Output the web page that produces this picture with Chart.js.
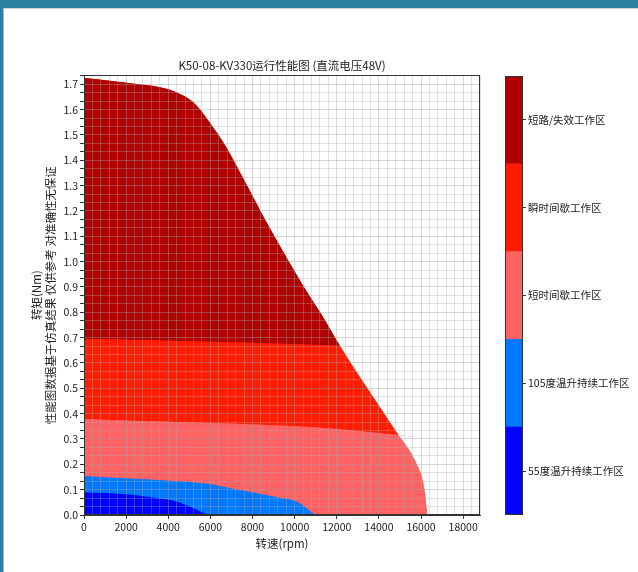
<!DOCTYPE html>
<html>
<head>
<meta charset="utf-8">
<script src="https://cdn.jsdelivr.net/npm/chart.js@4.4.1/dist/chart.umd.min.js"></script>
<style>
  body { margin: 0; background: #2d7fa1; width: 638px; height: 572px; overflow: hidden; position: relative; }
  #panel { position: absolute; left: 3px; top: 8px; right: 0; bottom: 0; background: #fff;
           border-left: 1px solid #d9a98e; border-top: 1px solid #d6cfcc; }
  canvas { position: absolute; top: 0; }
</style>
</head>
<body>
<div id="panel"></div>
<canvas id="perf" width="490" height="572" style="left:0"></canvas>
<canvas id="bar" width="148" height="572" style="left:490px"></canvas>
<script>
// outer envelope (rpm -> torque Nm)
var edgeRpm    = [0, 1000, 2000, 3000, 3600, 4400, 5200, 6000, 6800, 7550, 8500, 9000, 9450, 10400, 11300, 12060, 12960, 13910, 14860, 15400, 15860, 16080, 16190, 16300];
var edgeTorque = [1.725, 1.716, 1.706, 1.696, 1.688, 1.668, 1.628, 1.545, 1.445, 1.330, 1.180, 1.105, 1.040, 0.905, 0.787, 0.680, 0.561, 0.443, 0.324, 0.262, 0.190, 0.138, 0.087, 0];

// top of the 瞬时间歇 band
var burstRpm    = [0, 3000, 6000, 9000, 12060, 12800];
var burstTorque = [0.695, 0.690, 0.684, 0.677, 0.668, 0.665];

// top of the 短时间歇 band
var shortRpm    = [0, 3000, 6800, 10700, 13000, 15000, 15600];
var shortTorque = [0.379, 0.370, 0.361, 0.347, 0.332, 0.315, 0.310];

var hot105Rpm    = [0, 1950, 3940, 5890, 6900, 7880, 9300, 10110, 10970];
var hot105Torque = [0.154, 0.145, 0.136, 0.123, 0.107, 0.092, 0.068, 0.053, 0];

var hot55Rpm    = [0, 1950, 4080, 4400, 5890];
var hot55Torque = [0.090, 0.082, 0.059, 0.053, 0];

var zoneNames  = ['55度温升持续工作区', '105度温升持续工作区', '短时间歇工作区', '瞬时间歇工作区', '短路/失效工作区'];
var zoneColors = ['#0000ff', '#0078ff', '#ff6262', '#ff1c00', '#b00000'];
var zoneLevels = [1, 1, 1, 1, 1];

var xTickVals = [];
for (var i = 0; i <= 47; i++) xTickVals.push(i * 400);
var yTickVals = [];
for (var j = 0; j <= 52; j++) yTickVals.push(j / 30);

var cjk = '"Noto Sans CJK SC", "Noto Sans", sans-serif';

function toPoints(xs, ys) {
  var pts = [];
  for (var k = 0; k < xs.length; k++) pts.push({x: xs[k], y: ys[k]});
  return pts;
}

function curve(xs, ys, fill, order) {
  return {
    data: toPoints(xs, ys),
    borderWidth: 0,
    pointRadius: 0,
    fill: fill,
    backgroundColor: 'rgba(0,0,0,0)',
    cubicInterpolationMode: 'monotone',
    order: order
  };
}

var frame = {
  id: 'frame',
  afterDraw: function(chart) {
    var a = chart.chartArea, c = chart.ctx;
    c.save();
    c.strokeStyle = '#333';
    c.lineWidth = 1;
    c.strokeRect(Math.round(a.left) + 0.5, Math.round(a.top) + 0.5, Math.round(a.right - a.left) - 1, Math.round(a.bottom - a.top) - 1);
    c.restore();
  }
};

var gridMajor = 'rgba(160,160,160,0.42)';
var gridMinor = 'rgba(170,170,170,0.34)';

new Chart(document.getElementById('perf'), {
  type: 'line',
  data: {
    datasets: [
      curve(burstRpm, burstTorque, false, 9),                                                     // 0
      curve(shortRpm, shortTorque, false, 9),                                                     // 1
      curve(edgeRpm, edgeTorque, {target: 'origin', above: zoneColors[2], below: zoneColors[2]}, 8), // pink
      curve(edgeRpm, edgeTorque, {target: 1, above: zoneColors[3], below: 'rgba(0,0,0,0)'}, 7),     // red
      curve(edgeRpm, edgeTorque, {target: 0, above: zoneColors[4], below: 'rgba(0,0,0,0)'}, 6),     // dark red
      curve(hot105Rpm, hot105Torque, {target: 'origin', above: zoneColors[1], below: zoneColors[1]}, 2),
      curve(hot55Rpm, hot55Torque, {target: 'origin', above: zoneColors[0], below: zoneColors[0]}, 1)
    ]
  },
  options: {
    responsive: false,
    animation: false,
    devicePixelRatio: 1,
    layout: { padding: { left: 26, top: 58.6, right: 10, bottom: 21 } },
    plugins: {
      legend: { display: false },
      tooltip: { enabled: false },
      title: {
        display: true, fullSize: false,
        text: 'K50-08-KV330运行性能图 (直流电压48V)',
        color: '#222', font: { family: cjk, size: 11.5, weight: 'normal' },
        padding: { top: 0, bottom: 3 }
      }
    },
    scales: {
      x: {
        type: 'linear', min: 0, max: 18800, z: 1,
        afterBuildTicks: function(s) { s.ticks = xTickVals.map(function(v) { return {value: v}; }); },
        afterFit: function(s) { s.height = 36; },
        ticks: {
          autoSkip: false, maxRotation: 0, padding: 2, color: '#222',
          font: { family: cjk, size: 10.5 },
          callback: function(v) { return v % 2000 === 0 ? String(v) : ''; }
        },
        grid: {
          z: 1, tickLength: 4,
          color: function(c) { return c.tick && c.tick.value % 2000 === 0 ? gridMajor : gridMinor; },
          tickColor: function(c) { return c.tick && c.tick.value % 2000 === 0 ? '#333' : 'rgba(0,0,0,0)'; }
        },
        border: { display: true, color: '#333', z: 2 },
        title: { display: true, text: '转速(rpm)', color: '#222', font: { family: cjk, size: 11.5 }, padding: { top: 2, bottom: 0 } }
      },
      y: {
        type: 'linear', min: 0, max: 1.735, z: 1,
        afterBuildTicks: function(s) { s.ticks = yTickVals.map(function(v) { return {value: v}; }); },
        afterFit: function(s) { s.width = 84 - 26; },
        ticks: {
          autoSkip: false, padding: 2, color: '#222',
          font: { family: cjk, size: 10.5 },
          callback: function(v, idx) { return idx % 3 === 0 ? (idx / 30).toFixed(1) : ''; }
        },
        grid: {
          z: 1, tickLength: 4,
          color: function(c) { return c.index % 3 === 0 ? gridMajor : gridMinor; },
          tickColor: '#333'
        },
        border: { display: true, color: '#333', z: 2 },
        title: {
          display: true, color: '#222', font: { family: cjk, size: 11.5 }, padding: { top: 4, bottom: 0 },
          text: ['转矩(Nm)', '性能图数据基于仿真结果 仅供参考 对准确性无保证']
        }
      }
    }
  },
  plugins: [frame]
});

// colour bar
new Chart(document.getElementById('bar'), {
  type: 'bar',
  data: {
    labels: [''],
    datasets: zoneNames.map(function(n, i) {
      return { label: n, data: [zoneLevels[i]], backgroundColor: zoneColors[i], borderWidth: 0, barPercentage: 1, categoryPercentage: 1 };
    })
  },
  options: {
    responsive: false,
    animation: false,
    devicePixelRatio: 1,
    layout: { padding: { left: 15, top: 76, right: 0, bottom: 57 } },
    plugins: { legend: { display: false }, tooltip: { enabled: false } },
    scales: {
      x: { stacked: true, display: false },
      y: {
        stacked: true, position: 'right', min: 0, max: 5,
        afterBuildTicks: function(s) { s.ticks = zoneNames.map(function(n, i) { return {value: i + 0.5}; }); },
        afterFit: function(s) { s.width = 148 - 15 - 18; },
        ticks: {
          padding: 2, color: '#222', font: { family: cjk, size: 10.5 },
          callback: function(v, idx) { return zoneNames[idx]; }
        },
        grid: { drawOnChartArea: false, tickLength: 3, tickColor: '#333' },
        border: { display: false }
      }
    }
  },
  plugins: [frame]
});
</script>
</body>
</html>
